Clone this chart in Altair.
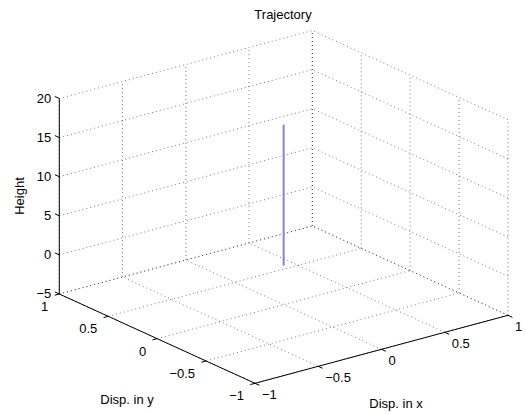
import altair as alt
import pandas as pd

# ---- data ----
X_TICKS = [-1, -0.5, 0, 0.5, 1]
Y_TICKS = [-1, -0.5, 0, 0.5, 1]
Z_TICKS = [-5, 0, 5, 10, 15, 20]
X_LABELS = ["\u22121", "\u22120.5", "0", "0.5", "1"]
Y_LABELS = ["\u22121", "\u22120.5", "0", "0.5", "1"]
Z_LABELS = ["\u22125", "0", "5", "10", "15", "20"]
TRAJ_X = [0, 0]
TRAJ_Y = [0, 0]
TRAJ_Z = [0, 18]

TITLE = "Trajectory"
X_TITLE = "Disp. in x"
Y_TITLE = "Disp. in y"
Z_TITLE = "Height"

XMIN, XMAX = -1, 1
YMIN, YMAX = -1, 1
ZMIN, ZMAX = -5, 20

W, H = 526, 414

# ---- orthographic view (MATLAB default 3-D view), pixel projection ----
CX, CY = 283.65, 304.65        # screen position of (0, 0, ZMIN)
PXX, PXY = 126.5, -34.0        # screen step per unit of x
PYX, PYY = -97.85, -44.65      # screen step per unit of y
PZY = -7.82                    # screen step per unit of z

SX = f"{CX} + {PXX}*datum.x + {PYX}*datum.y"
SY = f"{CY} + {PXY}*datum.x + {PYY}*datum.y + {PZY}*(datum.z - ({ZMIN}))"


def seg_rows(segs, kind):
    rows = []
    for i, (a, b) in enumerate(segs):
        for k, p in enumerate((a, b)):
            rows.append({"id": f"{kind}{i}", "o": k, "x": p[0], "y": p[1], "z": p[2]})
    return rows


# grid: floor, back wall (y = YMAX), side wall (x = XMAX)
grid = []
for xt in X_TICKS:
    grid.append(((xt, YMIN, ZMIN), (xt, YMAX, ZMIN)))
    grid.append(((xt, YMAX, ZMIN), (xt, YMAX, ZMAX)))
for yt in Y_TICKS:
    grid.append(((XMIN, yt, ZMIN), (XMAX, yt, ZMIN)))
    grid.append(((XMAX, yt, ZMIN), (XMAX, yt, ZMAX)))
for zt in Z_TICKS:
    grid.append(((XMIN, YMAX, zt), (XMAX, YMAX, zt)))
    grid.append(((XMAX, YMIN, zt), (XMAX, YMAX, zt)))

axes = [
    ((XMIN, YMAX, ZMIN), (XMIN, YMAX, ZMAX)),   # z axis
    ((XMIN, YMIN, ZMIN), (XMIN, YMAX, ZMIN)),   # y axis
    ((XMIN, YMIN, ZMIN), (XMAX, YMIN, ZMIN)),   # x axis
]
TL = 0.045
for zt in Z_TICKS:
    axes.append(((XMIN, YMAX, zt), (XMIN, YMAX + TL, zt)))
for yt in Y_TICKS:
    axes.append(((XMIN, yt, ZMIN), (XMIN - 0.037, yt, ZMIN)))
for xt in X_TICKS:
    axes.append(((xt, YMIN, ZMIN), (xt, YMIN - TL, ZMIN)))

grid_df = pd.DataFrame(seg_rows(grid, "g"))
axes_df = pd.DataFrame(seg_rows(axes, "a"))
traj_df = pd.DataFrame({"o": list(range(len(TRAJ_Z))), "x": TRAJ_X, "y": TRAJ_Y, "z": TRAJ_Z})

zlab_df = pd.DataFrame({"x": XMIN, "y": YMAX, "z": Z_TICKS, "t": Z_LABELS})
ylab_df = pd.DataFrame({"x": XMIN, "y": Y_TICKS, "z": ZMIN, "t": Y_LABELS})
xlab_df = pd.DataFrame({"x": X_TICKS, "y": YMIN, "z": ZMIN, "t": X_LABELS})

xs = alt.Scale(domain=[0, W], range=[0, W])
ys = alt.Scale(domain=[H, 0])
X = alt.X("sx:Q", scale=xs, axis=None)
Y = alt.Y("sy:Q", scale=ys, axis=None)

FONT = "Liberation Sans"
FS = 13


def proj(ch):
    return ch.transform_calculate(sx=SX, sy=SY)


grid_layer = proj(alt.Chart(grid_df)).mark_line(
    stroke="#000000", strokeWidth=0.7, strokeDash=[1, 3], opacity=0.75
).encode(x=X, y=Y, detail="id:N", order="o:Q")

axes_layer = proj(alt.Chart(axes_df)).mark_line(
    stroke="#000000", strokeWidth=1
).encode(x=X, y=Y, detail="id:N", order="o:Q")

traj_layer = proj(alt.Chart(traj_df)).mark_line(
    stroke="#7f7fff", strokeWidth=2
).encode(x=X, y=Y, order="o:Q")

zlab = proj(alt.Chart(zlab_df)).mark_text(
    font=FONT, fontSize=FS, align="right", baseline="middle", dx=-8, color="#000"
).encode(x=X, y=Y, text="t:N")

ylab = proj(alt.Chart(ylab_df)).mark_text(
    font=FONT, fontSize=FS, align="right", baseline="middle", dx=-11, dy=13, color="#000"
).encode(x=X, y=Y, text="t:N")

xlab = proj(alt.Chart(xlab_df)).mark_text(
    font=FONT, fontSize=FS, align="left", baseline="middle", dx=7, dy=12, color="#000"
).encode(x=X, y=Y, text="t:N")

# titles (placed in the figure, like MATLAB's axis labels)
base_txt = alt.Chart(pd.DataFrame({"k": [0]}))
xtitle = base_txt.mark_text(
    font=FONT, fontSize=FS, align="center", baseline="middle", color="#000", text=X_TITLE
).encode(x=alt.value(396), y=alt.value(404))
ytitle = base_txt.mark_text(
    font=FONT, fontSize=FS, align="center", baseline="middle", color="#000", text=Y_TITLE
).encode(x=alt.value(127), y=alt.value(400))
ztitle = base_txt.mark_text(
    font=FONT, fontSize=FS, align="center", baseline="middle", angle=270, color="#000", text=Z_TITLE
).encode(x=alt.value(20), y=alt.value(196))
title = base_txt.mark_text(
    font=FONT, fontSize=FS, align="center", baseline="middle", color="#000", text=TITLE
).encode(x=alt.value(283), y=alt.value(15))

chart = alt.layer(
    grid_layer, axes_layer, traj_layer, zlab, ylab, xlab, xtitle, ytitle, ztitle, title
).properties(
    width=W, height=H, padding=0, autosize=alt.AutoSizeParams(type="none"), background="white"
).configure_view(stroke=None)

chart.save("out.html", embed_options={"renderer": "svg", "actions": False})
